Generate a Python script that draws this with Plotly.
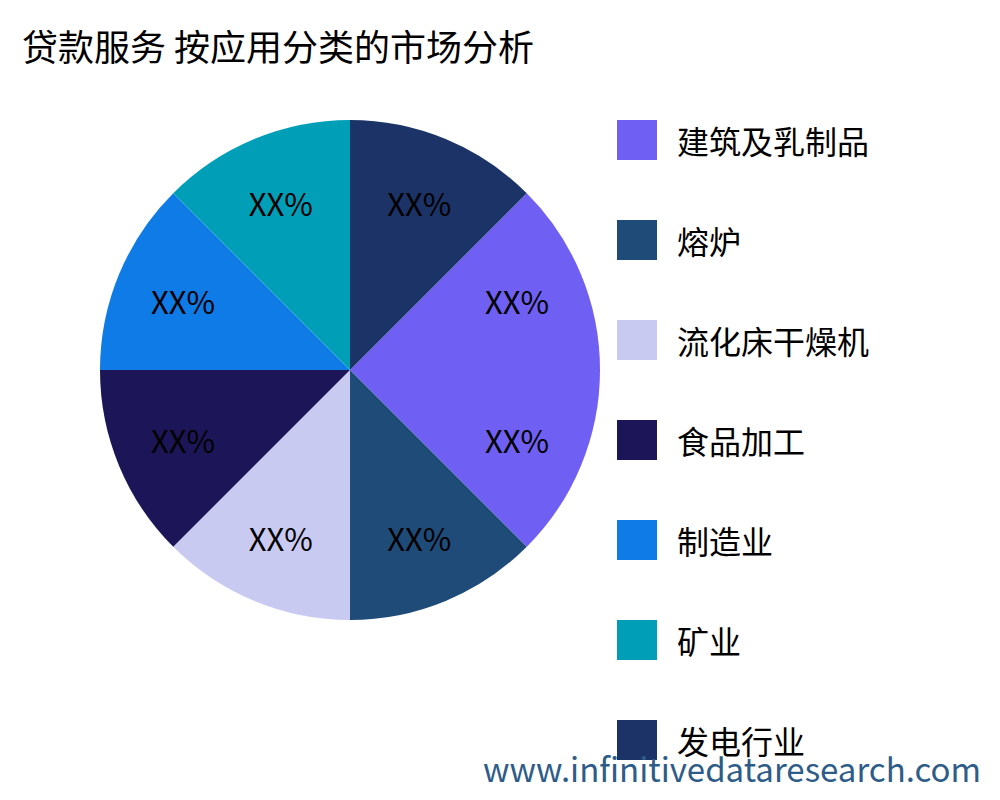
import plotly.graph_objects as go

# slices (clockwise from the 1:30 position); the first category occupies two slices
slice_names = ['建筑及乳制品', '建筑及乳制品b', '熔炉', '流化床干燥机', '食品加工', '制造业', '矿业', '发电行业']
slice_values = [12.5, 12.5, 12.5, 12.5, 12.5, 12.5, 12.5, 12.5]
slice_colors = ['#6F5FF2', '#6F5FF2', '#1F4B78', '#C9CAF2', '#1C1658', '#0F7BE6', '#019EB8', '#1B3366']

legend_names = ['建筑及乳制品', '熔炉', '流化床干燥机', '食品加工', '制造业', '矿业', '发电行业']
legend_colors = ['#6F5FF2', '#1F4B78', '#C9CAF2', '#1C1658', '#0F7BE6', '#019EB8', '#1B3366']

FONT = 'Noto Sans CJK SC'
W, H = 1000, 800
OFF = 8  # page body margin


def px(x):
    return (x - OFF) / W


def py(y):
    return 1 - (y - OFF) / H


fig = go.Figure()
fig.add_trace(go.Pie(
    labels=slice_names, values=slice_values, sort=False, direction='clockwise', rotation=45,
    marker=dict(colors=slice_colors), texttemplate='XX%', textposition='inside',
    insidetextorientation='horizontal', insidetextfont=dict(color='black', size=31, family=FONT),
    domain=dict(x=[px(100), px(600)], y=[py(620), py(120)]), showlegend=False, hoverinfo='skip',
))

# hand-drawn legend with big squares
shapes, annotations = [], []
for i, (name, color) in enumerate(zip(legend_names, legend_colors)):
    yc = 140 + i * 100
    shapes.append(dict(type='rect', xref='paper', yref='paper', x0=px(617), x1=px(657),
                       y0=py(yc + 20), y1=py(yc - 20), fillcolor=color, line=dict(width=0)))
    annotations.append(dict(text=name, xref='paper', yref='paper', x=px(675), y=py(yc),
                            xanchor='left', yanchor='middle', showarrow=False,
                            font=dict(size=32, color='black', family=FONT)))

annotations.append(dict(text='贷款服务 按应用分类的市场分析', xref='paper', yref='paper', x=px(20), y=py(45),
                        xanchor='left', yanchor='middle', showarrow=False,
                        font=dict(size=36, color='black', family=FONT)))
annotations.append(dict(text='www.infinitivedataresearch.com', xref='paper', yref='paper', x=px(983), y=py(768),
                        xanchor='right', yanchor='middle', showarrow=False,
                        font=dict(size=33, color='#2E5C88', family=FONT)))

fig.update_layout(
    width=W, height=H, margin=dict(l=0, r=0, t=0, b=0),
    paper_bgcolor='white', plot_bgcolor='white',
    shapes=shapes, annotations=annotations,
)

fig.write_html("out.html")
